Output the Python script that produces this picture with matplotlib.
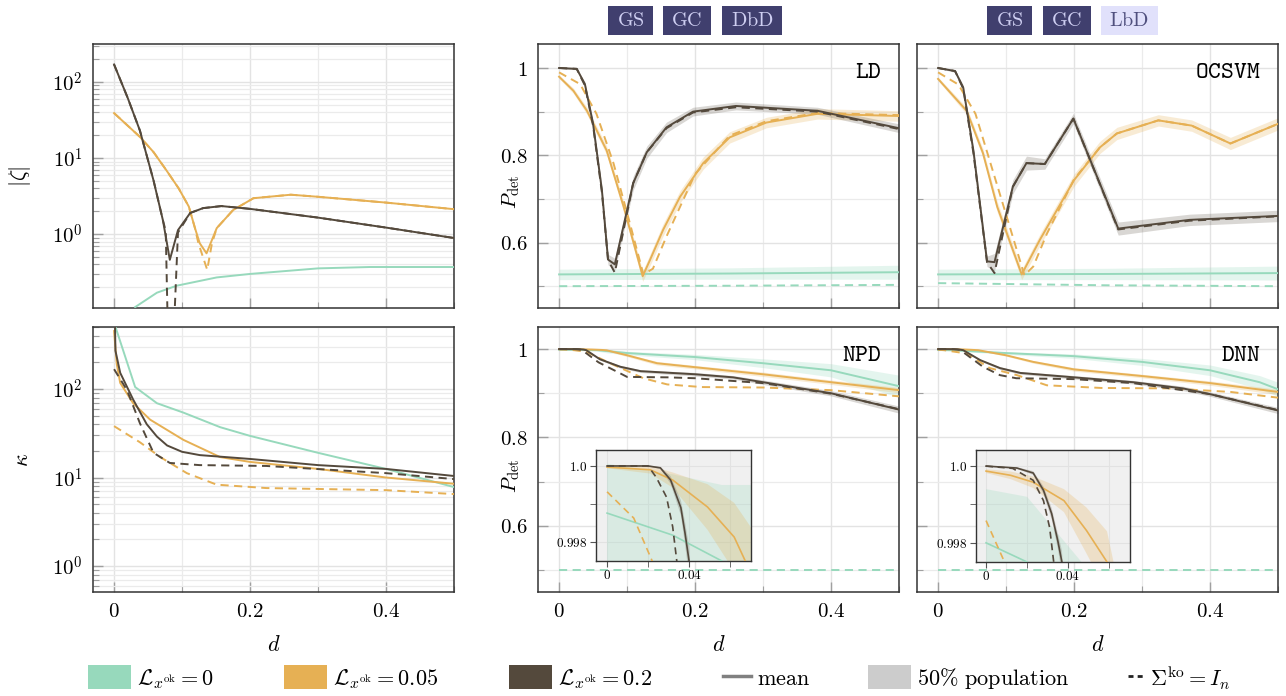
import numpy as np
import matplotlib
matplotlib.use("Agg")
import matplotlib.pyplot as plt
from matplotlib.lines import Line2D
from matplotlib.patches import Patch, Rectangle
from matplotlib.ticker import FuncFormatter, LogLocator, NullFormatter

plt.rcParams["mathtext.fontset"] = "cm"
plt.rcParams["font.family"] = ["DejaVu Serif"]

# ---------------- |zeta| (top left, log scale) ----------------
zeta_green_d = [0.031, 0.063, 0.092, 0.151, 0.2, 0.3, 0.376, 0.5]
zeta_green = [0.11, 0.17, 0.21, 0.27, 0.30, 0.355, 0.37, 0.37]
zeta_orange_d = [0, 0.038, 0.058, 0.077, 0.095, 0.11, 0.119, 0.126, 0.136, 0.151, 0.175, 0.205, 0.26, 0.3, 0.4, 0.5]
zeta_orange = [39, 19, 12, 6.9, 4.0, 2.3, 1.2, 0.76, 0.56, 1.2, 2.07, 2.97, 3.3, 3.1, 2.6, 2.13]
zeta_orange_dash_d = [0, 0.038, 0.058, 0.077, 0.095, 0.11, 0.119, 0.124, 0.137, 0.144, 0.151, 0.175, 0.205, 0.26, 0.3, 0.4, 0.5]
zeta_orange_dash = [39, 19, 12, 6.9, 4.0, 2.3, 1.2, 0.76, 0.34, 0.76, 1.2, 2.07, 2.97, 3.3, 3.1, 2.6, 2.13]
zeta_dark_d = [0, 0.02, 0.038, 0.058, 0.072, 0.082, 0.094, 0.112, 0.131, 0.158, 0.2, 0.3, 0.4, 0.5]
zeta_dark = [170, 62, 23, 5.1, 1.5, 0.46, 1.13, 1.9, 2.2, 2.34, 2.15, 1.65, 1.22, 0.89]
zeta_dark_dash_d = [0, 0.02, 0.038, 0.058, 0.072, 0.076, 0.082, 0.094, 0.112, 0.131, 0.158, 0.2, 0.3, 0.4, 0.5]
zeta_dark_dash = [170, 62, 23, 5.1, 1.5, 1.1, 0.003, 1.05, 1.9, 2.2, 2.34, 2.15, 1.65, 1.22, 0.89]

# ---------------- kappa (bottom left, log scale) ----------------
kappa_green_d = [0, 0.031, 0.063, 0.102, 0.156, 0.2, 0.3, 0.4, 0.5]
kappa_green = [560, 105, 69, 54, 37, 29.5, 19, 12.5, 7.8]
kappa_orange_d = [0, 0.004, 0.009, 0.028, 0.053, 0.102, 0.156, 0.2, 0.3, 0.4, 0.5]
kappa_orange = [450, 190, 117, 69, 45, 26.6, 17, 15, 12.5, 10, 8.5]
kappa_orange_dash_d = [0, 0.038, 0.068, 0.107, 0.151, 0.224, 0.4, 0.5]
kappa_orange_dash = [38, 25, 17, 11.2, 8.3, 7.6, 7.2, 6.5]
kappa_dark_d = [0, 0.002, 0.009, 0.028, 0.048, 0.063, 0.078, 0.1, 0.126, 0.2, 0.3, 0.4, 0.5]
kappa_dark = [2000, 270, 152, 76, 40, 29, 23, 19.5, 17.9, 16.2, 13.8, 12.5, 10.4]
kappa_dark_dash_d = [0, 0.019, 0.038, 0.058, 0.082, 0.126, 0.224, 0.4, 0.5]
kappa_dark_dash = [167, 97, 41, 19, 14.6, 13.8, 13.5, 11.2, 9.6]

# ---------------- LD ----------------
ld_green_d = [0, 0.25, 0.5]
ld_green = [0.527, 0.529, 0.532]
ld_green_hw = [0.012, 0.013, 0.016]
ld_green_dash = [0.500, 0.501, 0.503]
ld_orange_d = [0, 0.021, 0.041, 0.07, 0.095, 0.123, 0.134, 0.153, 0.178, 0.212, 0.251, 0.305, 0.38, 0.5]
ld_orange = [0.98, 0.948, 0.902, 0.811, 0.682, 0.523, 0.561, 0.629, 0.705, 0.782, 0.841, 0.875, 0.895, 0.89]
ld_orange_hw = [0.004, 0.006, 0.008, 0.01, 0.012, 0.012, 0.013, 0.014, 0.014, 0.014, 0.013, 0.012, 0.012, 0.012]
ld_orange_dash_d = [0, 0.031, 0.055, 0.08, 0.104, 0.124, 0.138, 0.158, 0.2, 0.251, 0.305, 0.38, 0.5]
ld_orange_dash = [0.99, 0.963, 0.895, 0.782, 0.645, 0.527, 0.54, 0.614, 0.757, 0.845, 0.878, 0.897, 0.892]
ld_dark_d = [0, 0.026, 0.038, 0.05, 0.063, 0.072, 0.082, 0.109, 0.129, 0.158, 0.197, 0.26, 0.38, 0.5]
ld_dark = [1.0, 0.998, 0.963, 0.872, 0.72, 0.561, 0.55, 0.736, 0.807, 0.864, 0.9, 0.913, 0.902, 0.862]
ld_dark_hw = [0.001, 0.002, 0.005, 0.008, 0.01, 0.012, 0.014, 0.016, 0.014, 0.012, 0.01, 0.009, 0.008, 0.01]
ld_dark_dash = [1.0, 0.998, 0.96, 0.868, 0.715, 0.56, 0.531, 0.736, 0.807, 0.862, 0.898, 0.91, 0.9, 0.86]

# ---------------- OCSVM ----------------
oc_green_d = [0, 0.25, 0.5]
oc_green = [0.527, 0.528, 0.530]
oc_green_hw = [0.012, 0.013, 0.016]
oc_green_dash = [0.507, 0.502, 0.500]
oc_orange_d = [0, 0.042, 0.066, 0.087, 0.123, 0.15, 0.2, 0.238, 0.263, 0.324, 0.373, 0.43, 0.5]
oc_orange = [0.975, 0.902, 0.805, 0.682, 0.527, 0.607, 0.743, 0.818, 0.85, 0.88, 0.868, 0.827, 0.872]
oc_orange_hw = [0.004, 0.008, 0.01, 0.012, 0.012, 0.013, 0.014, 0.014, 0.014, 0.013, 0.013, 0.014, 0.014]
oc_orange_dash_d = [0, 0.03, 0.055, 0.095, 0.127, 0.14, 0.16, 0.2, 0.238, 0.263, 0.324, 0.373, 0.43, 0.5]
oc_orange_dash = [0.99, 0.962, 0.895, 0.69, 0.525, 0.545, 0.62, 0.745, 0.818, 0.85, 0.88, 0.868, 0.827, 0.872]
oc_dark_d = [0, 0.025, 0.037, 0.052, 0.072, 0.083, 0.11, 0.13, 0.157, 0.199, 0.265, 0.37, 0.5]
oc_dark = [1.0, 0.993, 0.955, 0.81, 0.557, 0.555, 0.728, 0.782, 0.78, 0.884, 0.632, 0.652, 0.661]
oc_dark_hw = [0.001, 0.003, 0.006, 0.01, 0.012, 0.02, 0.016, 0.016, 0.012, 0.012, 0.015, 0.013, 0.013]
oc_dark_dash = [1.0, 0.993, 0.953, 0.805, 0.555, 0.53, 0.728, 0.782, 0.78, 0.884, 0.63, 0.65, 0.66]

# ---------------- NPD ----------------
npd_green_d = [0, 0.032, 0.056, 0.07, 0.1, 0.2, 0.3, 0.4, 0.5]
npd_green = [0.99876, 0.99818, 0.9975, 0.9955, 0.991, 0.982, 0.968, 0.952, 0.916]
npd_green_hw = [0.0013, 0.0016, 0.002, 0.004, 0.004, 0.006, 0.01, 0.015, 0.025]
npd_green_dash_d = [0, 0.5]
npd_green_dash = [0.5, 0.5]
npd_orange_d = [0, 0.021, 0.032, 0.049, 0.062, 0.07, 0.1, 0.144, 0.2, 0.3, 0.4, 0.5]
npd_orange = [0.99997, 0.9999, 0.99963, 0.99892, 0.99813, 0.9972, 0.986, 0.968, 0.959, 0.943, 0.925, 0.907]
npd_orange_hw = [0.00003, 0.0001, 0.0002, 0.0006, 0.0009, 0.0012, 0.003, 0.004, 0.004, 0.005, 0.005, 0.006]
npd_orange_dash_d = [0, 0.013, 0.022, 0.04, 0.075, 0.124, 0.159, 0.21, 0.3, 0.4, 0.5]
npd_orange_dash = [0.99932, 0.99863, 0.9975, 0.994, 0.968, 0.934, 0.92, 0.914, 0.913, 0.907, 0.893]
npd_dark_d = [0, 0.02, 0.026, 0.031, 0.036, 0.038, 0.04, 0.06, 0.09, 0.12, 0.2, 0.256, 0.3, 0.4, 0.5]
npd_dark = [1.0, 1.0, 0.99995, 0.99963, 0.9989, 0.99824, 0.9975, 0.977, 0.96, 0.95, 0.943, 0.936, 0.925, 0.9, 0.863]
npd_dark_hw = [0.0, 0.00001, 0.00003, 0.0001, 0.0002, 0.0003, 0.0004, 0.002, 0.003, 0.003, 0.004, 0.004, 0.005, 0.006, 0.008]
npd_dark_dash_d = [0, 0.02, 0.024, 0.029, 0.032, 0.034, 0.058, 0.09, 0.1, 0.16, 0.2, 0.3, 0.4, 0.5]
npd_dark_dash = [1.0, 1.0, 0.9997, 0.99918, 0.9984, 0.9975, 0.97, 0.945, 0.937, 0.936, 0.934, 0.923, 0.899, 0.864]

# ---------------- DNN ----------------
dnn_green_d = [0, 0.02, 0.07, 0.1, 0.2, 0.3, 0.4, 0.473, 0.5]
dnn_green = [0.998, 0.9975, 0.9935, 0.991, 0.984, 0.971, 0.952, 0.925, 0.909]
dnn_green_hw = [0.0014, 0.0017, 0.0025, 0.003, 0.005, 0.008, 0.012, 0.015, 0.016]
dnn_green_dash_d = [0, 0.5]
dnn_green_dash = [0.5, 0.5]
dnn_orange_d = [0, 0.012, 0.023, 0.038, 0.049, 0.059, 0.1, 0.14, 0.2, 0.3, 0.4, 0.5]
dnn_orange = [0.99987, 0.99976, 0.99958, 0.9991, 0.99832, 0.9975, 0.986, 0.971, 0.954, 0.939, 0.923, 0.903]
dnn_orange_hw = [0.00005, 0.0001, 0.00015, 0.0003, 0.0006, 0.0008, 0.002, 0.003, 0.004, 0.004, 0.005, 0.006]
dnn_orange_dash_d = [0, 0.009, 0.042, 0.076, 0.116, 0.16, 0.24, 0.34, 0.43, 0.5]
dnn_orange_dash = [0.99858, 0.9975, 0.99, 0.957, 0.941, 0.918, 0.912, 0.911, 0.903, 0.89]
dnn_dark_d = [0, 0.015, 0.023, 0.028, 0.032, 0.035, 0.037, 0.062, 0.091, 0.121, 0.2, 0.287, 0.36, 0.4, 0.5]
dnn_dark = [1.0, 0.99995, 0.99982, 0.99937, 0.99876, 0.99805, 0.9975, 0.975, 0.957, 0.946, 0.936, 0.925, 0.911, 0.898, 0.861]
dnn_dark_hw = [0.0, 0.00002, 0.00005, 0.0001, 0.00015, 0.0002, 0.0003, 0.002, 0.003, 0.003, 0.004, 0.004, 0.005, 0.005, 0.007]
dnn_dark_dash_d = [0, 0.013, 0.023, 0.028, 0.031, 0.033, 0.066, 0.091, 0.115, 0.2, 0.287, 0.4, 0.5]
dnn_dark_dash = [1.0, 0.99994, 0.99963, 0.9991, 0.9984, 0.9975, 0.96, 0.941, 0.934, 0.932, 0.923, 0.898, 0.862]

legend_labels = [r"$\mathcal{L}_{x^{\mathrm{ok}}} = 0$", r"$\mathcal{L}_{x^{\mathrm{ok}}} = 0.05$",
                 r"$\mathcal{L}_{x^{\mathrm{ok}}} = 0.2$", r"$\mathrm{mean}$",
                 r"$50\%\ \mathrm{population}$", r"$\mathbf{\Sigma}^{\mathrm{ko}} = I_n$"]

COLORS = {"green": "#97d9bc", "orange": "#e6b054", "dark": "#54493c"}
BAND_ALPHA = {"green": 0.25, "orange": 0.25, "dark": 0.22}
LINE_Z = {"green": 3, "orange": 4, "dark": 5}
DASH = (4.2, 2.8)
W, H = 1286, 696


def series(d, v, hw, dd, dv):
    return {"d": d, "v": v, "hw": hw, "dd": dd, "dv": dv}


def style_axes(ax):
    ax.set_axisbelow(True)
    ax.grid(True, which="major", color="#e3e3e3", lw=1.0)
    ax.grid(True, which="minor", color="#ebebeb", lw=0.9)
    ax.tick_params(which="both", direction="in", color="#a0a0a0", labelsize=15, pad=7.5)
    ax.tick_params(which="major", length=7, width=1)
    ax.tick_params(which="minor", length=4, width=0.8)
    for sp in ax.spines.values():
        sp.set_color("#333333")
        sp.set_linewidth(1.1)
    ax.set_xlim(-0.031, 0.5)
    ax.set_xticks([0, 0.2, 0.4])
    ax.set_xticks([0.1, 0.3, 0.5], minor=True)
    ax.xaxis.set_major_formatter(FuncFormatter(lambda v, p: f"${v:g}$"))


def style_log(ax, lo, hi):
    ax.set_yscale("log")
    ax.set_ylim(lo, hi)
    ax.yaxis.set_major_locator(LogLocator(base=10, numticks=10))
    ax.yaxis.set_minor_locator(LogLocator(base=10, subs=np.arange(2, 10), numticks=10))
    ax.yaxis.set_minor_formatter(NullFormatter())
    ax.yaxis.set_major_formatter(FuncFormatter(lambda v, p: f"$10^{{{int(round(np.log10(v)))}}}$"))


def style_pdet(ax, top):
    ax.set_ylim(0.45, 1.055 if top else 1.05)
    ax.set_yticks([0.6, 0.8, 1.0])
    ax.set_yticks([0.5, 0.7, 0.9], minor=True)
    ax.yaxis.set_major_formatter(FuncFormatter(lambda v, p: f"${v:g}$"))


def draw_pdet(ax, panel, lw=1.4):
    for key, s in panel.items():
        d, v, hw = np.asarray(s["d"]), np.asarray(s["v"]), np.asarray(s["hw"])
        ax.fill_between(d, v - hw, v + hw, color=COLORS[key], alpha=BAND_ALPHA[key], lw=0, zorder=1)
    for key, s in panel.items():
        ax.plot(s["dd"], s["dv"], color=COLORS[key], lw=lw, dashes=DASH, zorder=LINE_Z[key])
        ax.plot(s["d"], s["v"], color=COLORS[key], lw=lw, zorder=LINE_Z[key] + 0.5)


def draw_inset(fig, rect, panel, xmin):
    ax = fig.add_axes(rect)
    ax.set_facecolor("#f0f0f0")
    draw_pdet(ax, panel, lw=1.2)
    ax.set_xlim(xmin, 0.0702)
    ax.set_ylim(0.9975, 1.00042)
    ax.set_xticks([0, 0.04])
    ax.set_xticks([0.02, 0.06], minor=True)
    ax.set_xticklabels(["$0$", "$0.04$"])
    ax.set_yticks([0.998, 1.0])
    ax.set_yticks([0.999], minor=True)
    ax.set_yticklabels(["$0.998$", "$1.0$"])
    ax.grid(True, which="both", color="#e2e2e2", lw=0.8)
    ax.set_axisbelow(True)
    ax.tick_params(which="both", direction="out", length=4, color="#555555", labelsize=9.5, pad=2)
    for sp in ax.spines.values():
        sp.set_color("#333333")
        sp.set_linewidth(1.0)
    return ax


def draw_tag(fig, x0, x1, label, dark=True):
    face, txt = ("#403f6e", "#cfcff2") if dark else ("#e1e1fb", "#50507e")
    fig.add_artist(Rectangle((x0 / W, 1 - 35 / H), (x1 - x0) / W, 29 / H,
                             transform=fig.transFigure, facecolor=face, edgecolor="none"))
    fig.text((x0 + x1) / 2 / W, 1 - 21 / H, label, ha="center", va="center", color=txt, fontsize=14.5)


fig = plt.figure(figsize=(W / 100, H / 100), dpi=100)

col_x = [93, 538, 917]
row_y = [(44, 308), (327, 592)]
axes = {}
for r, (y0, y1) in enumerate(row_y):
    for c, x0 in enumerate(col_x):
        ax = fig.add_axes([x0 / W, 1 - y1 / H, 361 / W, (y1 - y0) / H])
        style_axes(ax)
        axes[(r, c)] = ax

# left column
ax = axes[(0, 0)]
style_log(ax, 0.107, 316)
ax.plot(zeta_green_d, zeta_green, color=COLORS["green"], lw=1.4, zorder=3)
ax.plot(zeta_orange_dash_d, zeta_orange_dash, color=COLORS["orange"], lw=1.4, dashes=DASH, zorder=4)
ax.plot(zeta_orange_d, zeta_orange, color=COLORS["orange"], lw=1.4, zorder=4.5)
ax.plot(zeta_dark_dash_d, zeta_dark_dash, color=COLORS["dark"], lw=1.4, dashes=DASH, zorder=5)
ax.plot(zeta_dark_d, zeta_dark, color=COLORS["dark"], lw=1.4, zorder=5.5)
ax.set_ylabel(r"$|\zeta|$", fontsize=16)
ax.yaxis.set_label_coords(-0.166, 0.5)

ax = axes[(1, 0)]
style_log(ax, 0.51, 500)
ax.plot(kappa_green_d, kappa_green, color=COLORS["green"], lw=1.4, zorder=3)
ax.plot(kappa_orange_dash_d, kappa_orange_dash, color=COLORS["orange"], lw=1.4, dashes=DASH, zorder=4)
ax.plot(kappa_orange_d, kappa_orange, color=COLORS["orange"], lw=1.4, zorder=4.5)
ax.plot(kappa_dark_dash_d, kappa_dark_dash, color=COLORS["dark"], lw=1.4, dashes=DASH, zorder=5)
ax.plot(kappa_dark_d, kappa_dark, color=COLORS["dark"], lw=1.4, zorder=5.5)
ax.set_ylabel(r"$\kappa$", fontsize=16)
ax.yaxis.set_label_coords(-0.166, 0.5)

# detection panels
ld = {"green": series(ld_green_d, ld_green, ld_green_hw, ld_green_d, ld_green_dash),
      "orange": series(ld_orange_d, ld_orange, ld_orange_hw, ld_orange_dash_d, ld_orange_dash),
      "dark": series(ld_dark_d, ld_dark, ld_dark_hw, ld_dark_d, ld_dark_dash)}
ocsvm = {"green": series(oc_green_d, oc_green, oc_green_hw, oc_green_d, oc_green_dash),
         "orange": series(oc_orange_d, oc_orange, oc_orange_hw, oc_orange_dash_d, oc_orange_dash),
         "dark": series(oc_dark_d, oc_dark, oc_dark_hw, oc_dark_d, oc_dark_dash)}
npd = {"green": series(npd_green_d, npd_green, npd_green_hw, npd_green_dash_d, npd_green_dash),
       "orange": series(npd_orange_d, npd_orange, npd_orange_hw, npd_orange_dash_d, npd_orange_dash),
       "dark": series(npd_dark_d, npd_dark, npd_dark_hw, npd_dark_dash_d, npd_dark_dash)}
dnn = {"green": series(dnn_green_d, dnn_green, dnn_green_hw, dnn_green_dash_d, dnn_green_dash),
       "orange": series(dnn_orange_d, dnn_orange, dnn_orange_hw, dnn_orange_dash_d, dnn_orange_dash),
       "dark": series(dnn_dark_d, dnn_dark, dnn_dark_hw, dnn_dark_dash_d, dnn_dark_dash)}

panels = {(0, 1): (ld, "LD"), (0, 2): (ocsvm, "OCSVM"), (1, 1): (npd, "NPD"), (1, 2): (dnn, "DNN")}
for (r, c), (panel, name) in panels.items():
    ax = axes[(r, c)]
    style_pdet(ax, r == 0)
    draw_pdet(ax, panel)
    ax.text(0.952, 0.895, r"$\mathtt{" + name + "}$", transform=ax.transAxes,
            ha="right", va="center", fontsize=17.5, zorder=10)
    if c == 1:
        ax.set_ylabel(r"$P_{\mathrm{det}}$", fontsize=15)
        ax.yaxis.set_label_coords(-0.045, 0.44)
    else:
        ax.tick_params(labelleft=False)

for c in range(3):
    axes[(0, c)].tick_params(labelbottom=False)
    axes[(1, c)].set_xlabel(r"$d$", fontsize=16)
    axes[(1, c)].xaxis.set_label_coords(0.5, -0.16)

draw_inset(fig, [596 / W, 1 - 561 / H, 155 / W, 111 / H], npd, -0.0054)
draw_inset(fig, [976 / W, 1 - 562 / H, 154 / W, 112 / H], dnn, -0.0049)

# tags above detection panels
draw_tag(fig, 608, 653, r"$\mathrm{GS}$")
draw_tag(fig, 663, 711, r"$\mathrm{GC}$")
draw_tag(fig, 722, 782, r"$\mathrm{DbD}$")
draw_tag(fig, 987, 1032, r"$\mathrm{GS}$")
draw_tag(fig, 1043, 1091, r"$\mathrm{GC}$")
draw_tag(fig, 1101, 1158, r"$\mathrm{LbD}$", dark=False)

# legend, one entry at a time so each sits where the reference has it
handles = [Patch(facecolor=COLORS["green"], edgecolor="none"),
           Patch(facecolor=COLORS["orange"], edgecolor="none"),
           Patch(facecolor=COLORS["dark"], edgecolor="none"),
           Line2D([], [], color="#808080", lw=2.5),
           Patch(facecolor="#cccccc", edgecolor="none"),
           Line2D([], [], color="#222222", lw=2, dashes=(1.8, 1.5))]
leg_x = [88, 284, 509, 723, 868, 1128]
leg_len = [1.94, 1.94, 1.94, 1.26, 1.94, 0.72]
for h, lab, x, hl in zip(handles, legend_labels, leg_x, leg_len):
    fig.legend(handles=[h], labels=[lab], loc="center left", bbox_to_anchor=(x / W, 1 - 678 / H),
               frameon=False, fontsize=16, handlelength=hl, handleheight=1.26,
               handletextpad=0.25, borderpad=0, borderaxespad=0)

fig.savefig("out.png", dpi=100)
